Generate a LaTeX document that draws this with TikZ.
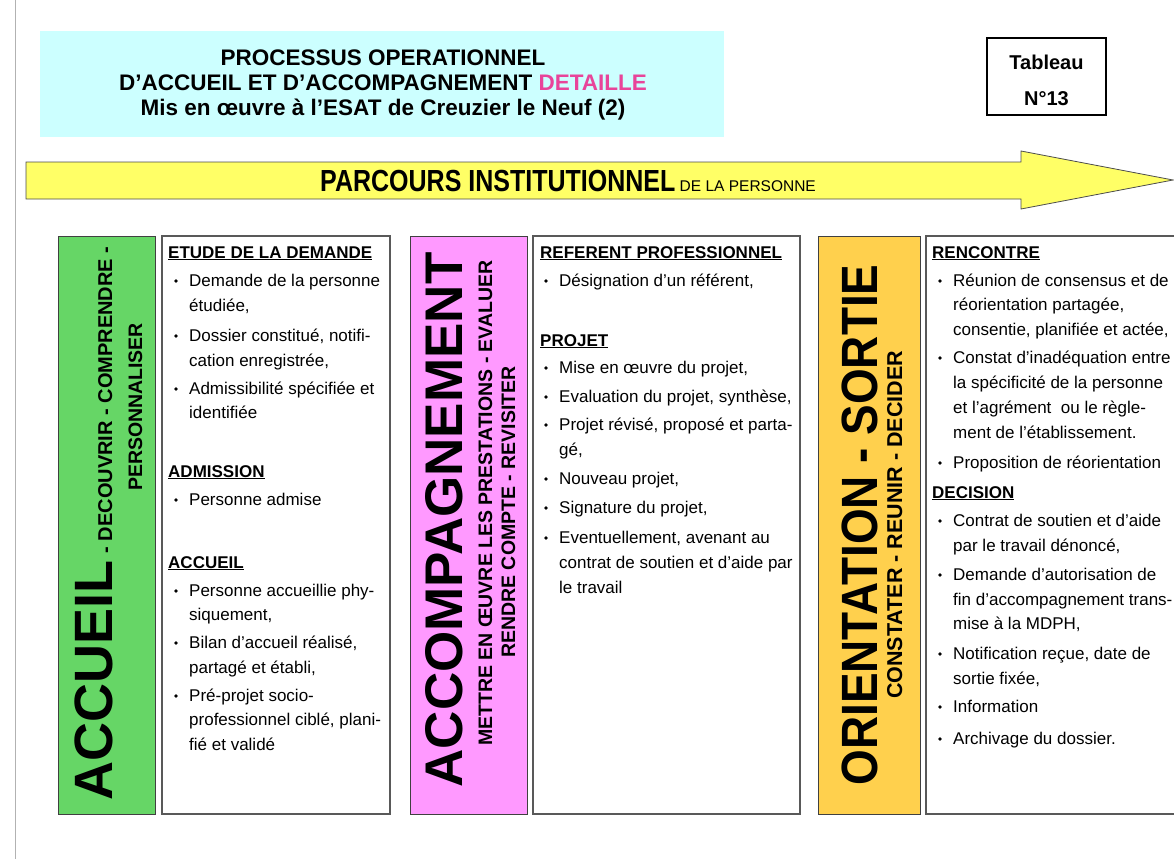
\documentclass[tikz,border=0pt]{standalone}
\usepackage{fontspec}
\setmainfont{Liberation Sans}
\newfontfamily\etroit{Liberation Sans}[FakeStretch=0.82]
\newfontfamily\serre{Liberation Sans}[FakeStretch=0.9]

\definecolor{vert}{RGB}{102,214,102}
\definecolor{rose}{RGB}{255,153,255}
\definecolor{orange}{RGB}{255,208,77}
\definecolor{jaune}{RGB}{255,255,102}
\definecolor{cyanclair}{RGB}{204,255,255}
\definecolor{rosefonce}{RGB}{232,68,154}

\tikzset{
  ligne/.style={anchor=base west, inner sep=0pt, font=\fontsize{17}{20}\selectfont},
  rubrique/.style={anchor=base west, inner sep=0pt, font=\bfseries\fontsize{17}{20}\selectfont},
  gros/.style={rotate=90, anchor=base, inner sep=0pt, font=\bfseries\fontsize{53}{56}\selectfont},
  petit/.style={rotate=90, anchor=base, inner sep=0pt, font=\bfseries\fontsize{19.5}{23}\selectfont},
  barre/.style={draw=black!75, line width=0.8pt},
  cadre/.style={draw=black!65, line width=1.2pt, fill=white},
}

% one bullet list: x of the bullet, node prefix, y/bullet/text
\newcommand{\liste}[3]{%
  \foreach \y/\b/\t [count=\i] in {#3} {
    \node[ligne] (#2-\i) at (#1+13,\y) {\t};
    \ifnum\b=1 \fill (#1,\y-5) circle (1.8); \fi
  }}

\begin{document}
\begin{tikzpicture}[x=1pt,y=-1pt]
\useasboundingbox (0,0) rectangle (1174,859);

\draw[black!30, line width=1pt] (15,0) -- (15,859);

% title
\fill[cyanclair] (40,31) rectangle (724,137);
\node[align=center, inner sep=0pt, font=\bfseries\fontsize{22.5}{25}\selectfont] (titre) at (383,85)
  {PROCESSUS OPERATIONNEL\\D’ACCUEIL ET D’ACCOMPAGNEMENT \textcolor{rosefonce}{DETAILLE}\\Mis en œuvre à l’ESAT de Creuzier le Neuf (2)};

\draw[line width=1.5pt] (987,38) rectangle (1106,115);
\node[align=center, inner sep=0pt, font=\bfseries\fontsize{20}{36}\selectfont] (tableau) at (1046.5,80) {Tableau\\N°13};

% arrow
\draw[fill=jaune, draw=black!70, line width=0.8pt] (26,162) -- (1021,162) -- (1021,151)
  -- (1173,180) -- (1021,209) -- (1021,199) -- (26,199) -- cycle;
\node[anchor=base west, inner sep=0pt] (parcours) at (320,191)
  {\etroit\bfseries\fontsize{30.5}{31}\selectfont PARCOURS INSTITUTIONNEL\normalfont\fontsize{15.5}{18}\selectfont\ DE LA PERSONNE};

% left one
\draw[barre, fill=vert] (58,236) rectangle (155,814);
\draw[cadre] (162,236) rectangle (390,814);
\node[gros, font=\bfseries\fontsize{54}{58}\selectfont] (accueil) at (112,680) {ACCUEIL};
\node[petit, font=\bfseries\fontsize{20}{23}\selectfont] (accueil-1) at (112,400) {- DECOUVRIR - COMPRENDRE -};
\node[petit] (accueil-2) at (142,407) {PERSONNALISER};

\node[rubrique] (etude) at (168,258) {\underline{ETUDE DE LA DEMANDE}};
\liste{176}{etude}{286/1/{Demande de la personne}, 311/0/{étudiée,},
  341/1/{Dossier constitué, notifi-}, 366/0/{cation enregistrée,},
  394/1/{Admissibilité spécifiée et}, 418/0/{identifiée}}
\node[rubrique] (admission) at (168,477) {\underline{ADMISSION}};
\liste{176}{admission}{505/1/{Personne admise}}
\node[rubrique] (accueil-r) at (168,568) {\underline{ACCUEIL}};
\liste{176}{accueil-r}{596/1/{Personne accueillie phy-}, 620/0/{siquement,},
  648/1/{Bilan d’accueil réalisé,}, 673/0/{partagé et établi,},
  701/1/{Pré-projet socio-}, 725/0/{professionnel ciblé, plani-}, 750/0/{fié et validé}}

% middle one
\draw[barre, fill=rose] (410,236) rectangle (527,814);
\draw[cadre] (533,236) rectangle (800,814);
\node[gros] (accompagnement) at (462,520) {ACCOMPAGNEMENT};
\node[petit] (accompagnement-1) at (492,503) {METTRE EN ŒUVRE LES PRESTATIONS - EVALUER};
\node[petit] (accompagnement-2) at (515,512) {RENDRE COMPTE - REVISITER};

\node[rubrique] (referent) at (540,258) {\underline{REFERENT PROFESSIONNEL}};
\liste{546}{referent}{286/1/{Désignation d’un référent,}}
\node[rubrique] (projet) at (540,346) {\underline{PROJET}};
\liste{546}{projet}{373/1/{Mise en œuvre du projet,}, 402/1/{Evaluation du projet, synthèse,},
  430/1/{Projet révisé, proposé et parta-}, 455/0/{gé,}, 484/1/{Nouveau projet,},
  513/1/{Signature du projet,}, 543/1/{Eventuellement, avenant au},
  568/0/{contrat de soutien et d’aide par}, 593/0/{le travail}}

% right one
\draw[barre, fill=orange] (818,236) rectangle (920,814);
\draw[cadre] (926,236) rectangle (1180,814);
\node[gros, font=\serre\bfseries\fontsize{51}{54}\selectfont] (orientation) at (877,525) {ORIENTATION - SORTIE};
\node[petit, font=\bfseries\fontsize{21.5}{23}\selectfont] (orientation-1) at (902,525) {CONSTATER - REUNIR - DECIDER};

\node[rubrique] (rencontre) at (932,258) {\underline{RENCONTRE}};
\liste{940}{rencontre}{286/1/{Réunion de consensus et de}, 310/0/{réorientation partagée,},
  335/0/{consentie, planifiée et actée,}, 363/1/{Constat d’inadéquation entre},
  388/0/{la spécificité de la personne}, 413/0/{et l’agrément \ ou le règle-},
  438/0/{ment de l’établissement.}, 468/1/{Proposition de réorientation}}
\node[rubrique] (decision) at (932,498) {\underline{DECISION}};
\liste{940}{decision}{526/1/{Contrat de soutien et d’aide}, 551/0/{par le travail dénoncé,},
  580/1/{Demande d’autorisation de}, 605/0/{fin d’accompagnement trans-},
  629/0/{mise à la MDPH,}, 659/1/{Notification reçue, date de}, 684/0/{sortie fixée,},
  712/1/{Information}, 744/1/{Archivage du dossier.}}

\end{tikzpicture}
\end{document}
